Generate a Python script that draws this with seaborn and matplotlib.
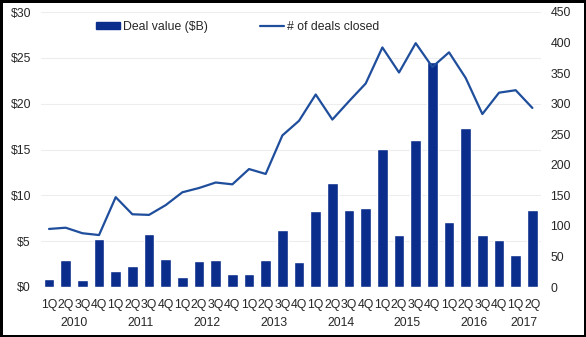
import matplotlib
matplotlib.use("Agg")
import matplotlib.pyplot as plt
import seaborn as sns
import pandas as pd
import numpy as np
from matplotlib.patches import Patch
from matplotlib.lines import Line2D

quarters = ["1Q", "2Q", "3Q", "4Q"] * 7 + ["1Q", "2Q"]
years = ["2010", "2011", "2012", "2013", "2014", "2015", "2016", "2017"]
deal_value = [0.9, 2.9, 0.8, 5.2, 1.75, 2.3, 5.8, 3.1,
              1.1, 2.8, 3.0, 1.45, 1.4, 2.9, 6.2, 2.7,
              8.25, 11.4, 8.35, 8.65, 15.05, 5.7, 16.0, 24.5,
              7.1, 17.3, 5.7, 5.15, 3.5, 8.4]
deals_closed = [95, 97, 88, 85, 147, 119, 118, 134,
                155, 162, 171, 168, 193, 185, 248, 272,
                315, 274, 304, 333, 392, 351, 399, 360,
                384, 342, 283, 318, 322, 293]

labels = [f"{q}\n{i}" for i, q in enumerate(quarters)]
df = pd.DataFrame({"idx": labels, "value": deal_value, "deals": deals_closed})

sns.set_theme(style="white")
plt.rcParams["font.family"] = ["Liberation Sans", "DejaVu Sans"]

FS = 8.8
bar_color = "#0B2D8C"
line_color = "#1F4E9C"

fig = plt.figure(figsize=(5.86, 3.37), dpi=100)
ax = fig.add_axes([40.7 / 586, 1 - 287 / 337, 500 / 586, 275 / 337])

sns.barplot(data=df, x="idx", y="value", color=bar_color, width=0.64,
            saturation=1, ax=ax, zorder=2)
ax.set_ylim(0, 30)
ax.set_xlim(-0.5, len(deal_value) - 0.5)
ax.set_yticks(range(0, 31, 5))
ax.set_yticklabels([f"${v}" for v in range(0, 31, 5)], fontsize=FS)
ax.yaxis.grid(True, color="#EDEDED", linewidth=0.8, zorder=0)
ax.set_axisbelow(True)
ax.set_xticks(range(len(quarters)))
ax.set_xticklabels(quarters, fontsize=FS)
ax.tick_params(axis="x", length=0, pad=8.5)
ax.tick_params(axis="y", length=0, pad=7)
ax.set_xlabel("")
ax.set_ylabel("")
for s in ax.spines.values():
    s.set_visible(False)

ax2 = ax.twinx()
sns.lineplot(x=np.arange(len(deals_closed)), y=deals_closed, color=line_color,
             linewidth=1.6, ax=ax2, zorder=3)
ax2.set_ylim(0, 450)
ax2.set_yticks(range(0, 451, 50))
ax2.set_yticklabels([str(v) for v in range(0, 451, 50)], fontsize=FS)
ax2.tick_params(axis="y", length=0, pad=7)
ax2.set_ylabel("")
ax2.grid(False)
for s in ax2.spines.values():
    s.set_visible(False)

# year labels
for j, yr in enumerate(years):
    center = 4 * j + 1.5 if j < 7 else 28.5
    ax.text(center, -0.13, yr, transform=ax.get_xaxis_transform(),
            ha="center", va="center", fontsize=FS)

handles = [Patch(facecolor=bar_color, edgecolor=bar_color),
           Line2D([0], [0], color=line_color, linewidth=1.6)]
fig.legend(handles, ["Deal value ($B)", "# of deals closed"],
           loc="center left", bbox_to_anchor=(96 / 586, 1 - 27 / 337),
           ncol=2, frameon=False, fontsize=FS, borderpad=0, borderaxespad=0,
           handlelength=1.95, handleheight=0.45, handletextpad=0.25,
           columnspacing=4.3)

fig.patch.set_edgecolor("black")
fig.patch.set_linewidth(2.5)
fig.savefig("out.png", dpi=100, facecolor="white", edgecolor="black")
